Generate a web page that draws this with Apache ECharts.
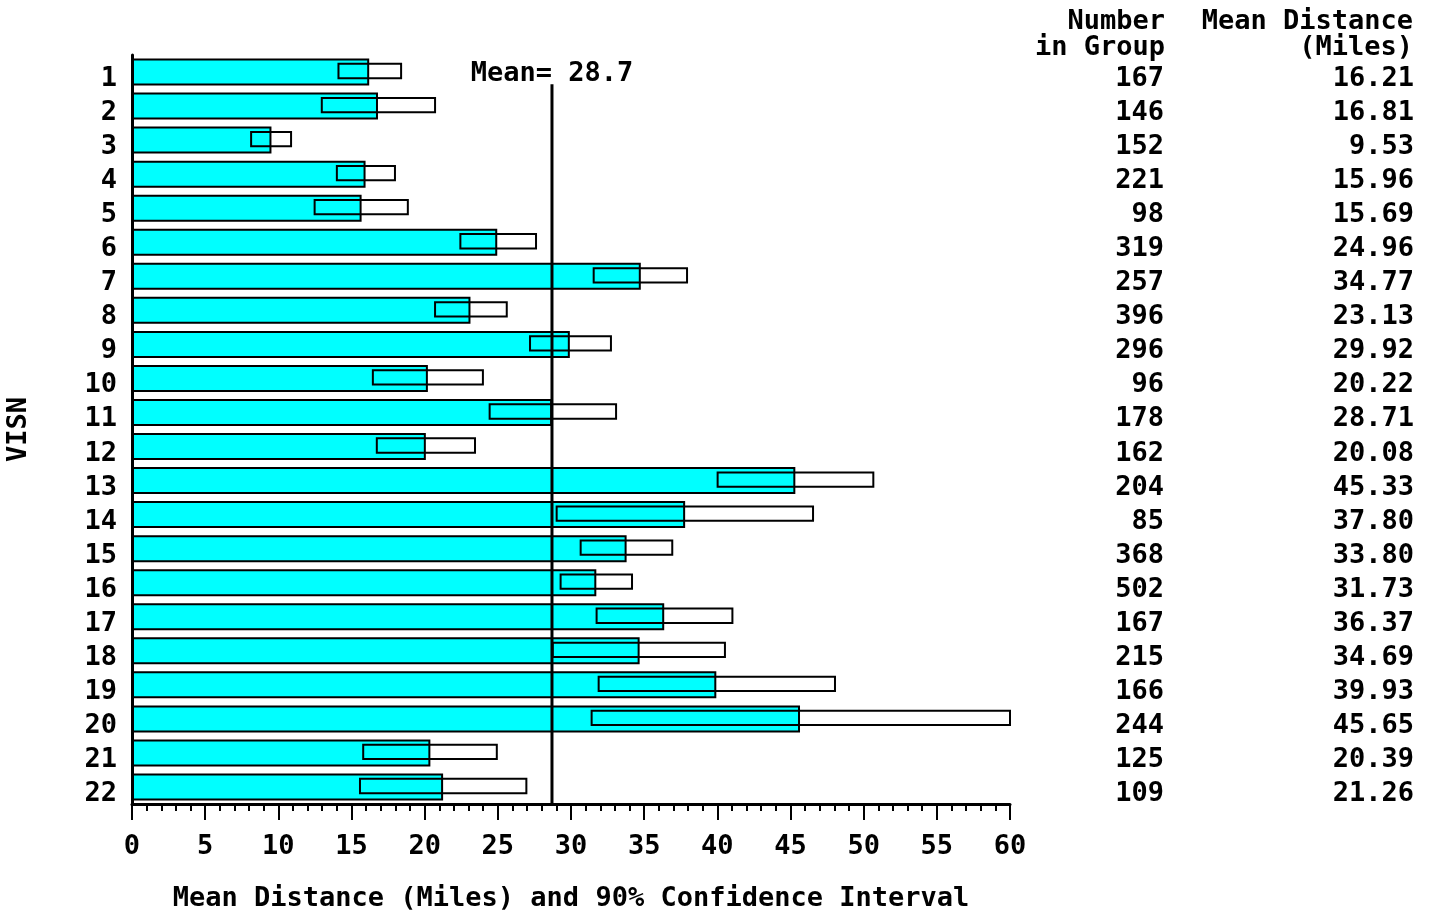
<!DOCTYPE html>
<html><head><meta charset="utf-8">
<script src="https://cdn.jsdelivr.net/npm/echarts@6/dist/echarts.min.js"></script>
<style>
html,body{margin:0;padding:0;background:#fff;}
#chart{width:1431px;height:913px;}
</style></head><body><div id="chart"></div>
<script>
const categories = ['1','2','3','4','5','6','7','8','9','10','11','12','13','14','15','16','17','18','19','20','21','22'];
const meanDistance = [16.21,16.81,9.53,15.96,15.69,24.96,34.77,23.13,29.92,20.22,28.71,20.08,45.33,37.80,33.80,31.73,36.37,34.69,39.93,45.65,20.39,21.26];
const ciLower = [14.11,12.97,8.14,14.00,12.48,22.44,31.55,20.71,27.20,16.46,24.44,16.73,40.02,29.02,30.66,29.29,31.75,28.75,31.89,31.41,15.80,15.58];
const ciUpper = [18.39,20.71,10.87,17.97,18.85,27.61,37.93,25.61,32.73,23.98,33.08,23.44,50.66,46.54,36.92,34.17,41.03,40.52,48.04,60.00,24.93,26.95];
const numberInGroup = [167,146,152,221,98,319,257,396,296,96,178,162,204,85,368,502,167,215,166,244,125,109];
const overallMean = 28.7;
const headerNumber = ['Number','in Group'];
const headerMean = ['Mean Distance','(Miles)'];

const FONT = "'DejaVu Sans Mono','Liberation Mono',monospace";
const FS = 27;
const txt = {fontFamily: FONT, fontSize: FS, fontWeight: 'bold', color: '#000'};
const FONTSTR = 'bold ' + FS + 'px ' + FONT;

const chart = echarts.init(document.getElementById('chart'));
chart.setOption({
  animation: false,
  backgroundColor: '#fff',
  grid: {left: 132, right: 421, top: 55, bottom: 109, containLabel: false, outerBoundsMode: 'none'},
  xAxis: {
    type: 'value', min: 0, max: 60, interval: 5,
    name: 'Mean Distance (Miles) and 90% Confidence Interval',
    nameLocation: 'middle', nameGap: 81,
    nameTextStyle: txt,
    axisLine: {show: true, lineStyle: {color: '#000', width: 3}},
    axisTick: {show: true, length: 16, lineStyle: {color: '#000', width: 2}},
    minorTick: {show: true, splitNumber: 5, length: 7, lineStyle: {color: '#000', width: 2}},
    splitLine: {show: false},
    axisLabel: Object.assign({margin: 29}, txt)
  },
  yAxis: [{
    type: 'category', data: categories, inverse: true,
    name: 'VISN', nameLocation: 'middle', nameGap: 100, nameRotate: 90,
    nameTextStyle: txt,
    axisLine: {show: true, lineStyle: {color: '#000', width: 3}},
    axisTick: {show: false},
    axisLabel: {
      margin: 15, interval: 0, padding: [14, 0, 0, 0],
      formatter: (v) => '{a|' + v + '}',
      rich: {a: Object.assign({}, txt)}
    }
  }, {
    type: 'category', data: categories, inverse: true, position: 'right',
    axisLine: {show: false}, axisTick: {show: false}, splitLine: {show: false},
    axisLabel: {
      margin: 10, interval: 0, padding: [14, 0, 0, 0],
      formatter: (v, i) => '{n|' + numberInGroup[i] + '}{m|' + meanDistance[i].toFixed(2) + '}',
      rich: {
        n: Object.assign({width: 144, align: 'right'}, txt),
        m: Object.assign({width: 250, align: 'right'}, txt)
      }
    }
  }],
  graphic: [
    {type: 'text', x: 1165, y: 22, style: {text: headerNumber[0], align: 'right', verticalAlign: 'middle', font: FONTSTR, fill: '#000'}},
    {type: 'text', x: 1165, y: 48, style: {text: headerNumber[1], align: 'right', verticalAlign: 'middle', font: FONTSTR, fill: '#000'}},
    {type: 'text', x: 1413, y: 22, style: {text: headerMean[0], align: 'right', verticalAlign: 'middle', font: FONTSTR, fill: '#000'}},
    {type: 'text', x: 1413, y: 48, style: {text: headerMean[1], align: 'right', verticalAlign: 'middle', font: FONTSTR, fill: '#000'}}
  ],
  series: [{
    type: 'bar', data: meanDistance, barWidth: 27, z: 2,
    itemStyle: {color: '#00FFFF', borderColor: '#000', borderWidth: 2}
  }, {
    type: 'custom', z: 3,
    data: categories.map((c, i) => [i, ciLower[i], ciUpper[i]]),
    encode: {x: [1, 2], y: 0},
    renderItem: function (params, api) {
      const cat = api.value(0);
      const lo = api.coord([api.value(1), cat]);
      const hi = api.coord([api.value(2), cat]);
      const band = api.size([0, 1])[1];
      const h = band * 0.42;
      return {type: 'rect', shape: {x: lo[0], y: lo[1] - h / 2 - 1, width: hi[0] - lo[0], height: h},
        style: {fill: 'none', stroke: '#000', lineWidth: 2}};
    }
  }, {
    type: 'custom', z: 4,
    data: [[overallMean, 0]],
    encode: {x: 0, y: 1},
    renderItem: function (params, api) {
      const p = api.coord([api.value(0), 0]);
      const band = api.size([0, 1])[1];
      const top = p[1] + band * 0.36;
      const bottom = params.coordSys.y + params.coordSys.height;
      return {type: 'group', children: [
        {type: 'line', shape: {x1: p[0], y1: top, x2: p[0], y2: bottom}, style: {stroke: '#000', lineWidth: 3}},
        {type: 'text', x: p[0], y: top - 10, style: {text: 'Mean= ' + api.value(0).toFixed(1), align: 'center', verticalAlign: 'middle', font: FONTSTR, fill: '#000'}}
      ]};
    }
  }]
});
</script></body></html>
